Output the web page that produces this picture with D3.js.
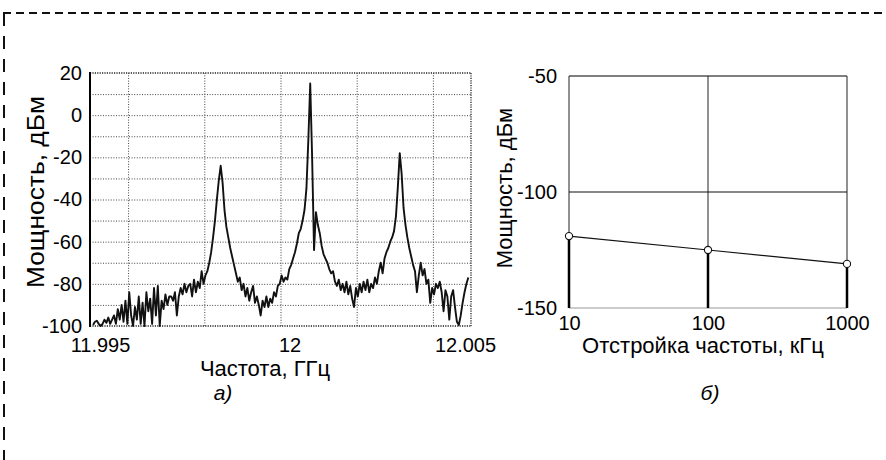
<!DOCTYPE html>
<html>
<head>
<meta charset="utf-8">
<script src="https://cdn.jsdelivr.net/npm/d3@7"></script>
<style>
body { margin: 0; background: #fff; }
svg { display: block; font-family: "Liberation Sans", Arial, sans-serif; }
</style>
</head>
<body>
<svg id="figure" width="886" height="460"></svg>
<script>
// sweep of the analyzer (GHz): first point and bin width
var sweepStart = 11.99508;
var sweepStep = 0.00005;
// power, dBm, one value per sweep bin
var spectrumPower = [
    -99.5, -98, -97.5, -99, -100, -99, -97, -98.5, -96, -99, -97,
    -95, -99, -92, -97, -90, -98, -88, -99, -84, -95,
    -100, -91, -97, -86, -99, -89, -100, -84, -93, -87,
    -99, -82, -95, -81, -100, -88, -92, -85, -90, -86,
    -86, -88, -84, -95, -86, -82, -85, -80, -84, -81,
    -80, -86, -78, -84, -79, -82, -74, -80, -76, -74,
    -70, -65, -58, -50, -40, -31, -24,
    -32, -45, -53, -58, -63, -67, -71, -75, -79, -77, -83, -80, -86,
    -82, -88, -84, -81, -89, -86, -90, -95, -88, -91,
    -86, -91, -87, -89, -84, -86, -81, -80, -76, -79,
    -77, -78, -73, -71, -68, -65, -61, -56, -54, -50, -45,
    -35, -12, 15, -20, -64, -46,
    -52, -56, -62, -66, -68, -70, -73, -75, -74, -79, -81, -78, -83,
    -80, -84, -79, -85, -81, -87, -91, -82, -86, -80,
    -84, -79, -83, -78, -84, -80, -82, -77, -80, -74,
    -70, -75, -68, -65, -63, -60, -58, -55, -48, -34, -18,
    -28, -44, -52, -58, -63, -67, -71, -74, -84, -76, -70, -76, -73, -80, -78, -89, -82, -85, -80,
    -82, -79, -84, -93, -83, -86, -97, -86, -83, -91, -98, -99.5, -95, -89, -84, -80, -77
];
var spectrumTicksX = [11.995, 12, 12.005];
var spectrumTicksY = [20, 0, -20, -40, -60, -80, -100];
var spectrumGridX = [11.996, 11.998, 12, 12.002, 12.004];
var spectrumGridY = [10, 0, -10, -20, -30, -40, -50, -60, -70, -80, -90];

// right panel: noise level vs. frequency offset
var offsetKHz = [10, 100, 1000];
var noiseLevel = [-119, -125, -131];
var offsetTicksY = [-50, -100, -150];
var offsetGridY = [-100];

// plain hyphen for negatives, like the original
var plain = d => String(d);

var svg = d3.select("#figure");
svg.append("rect").attr("width", 886).attr("height", 460).attr("fill", "#fff");

// dashed frame round the figure
svg.append("line")
    .attr("x1", 3).attr("y1", 13).attr("x2", 886).attr("y2", 13)
    .attr("stroke", "#111").attr("stroke-width", 2)
    .attr("stroke-dasharray", "8,5");
svg.append("line")
    .attr("x1", 4).attr("y1", 13).attr("x2", 4).attr("y2", 460)
    .attr("stroke", "#111").attr("stroke-width", 2)
    .attr("stroke-dasharray", "13,10");

spectrum = {};
spectrum.x = d3.scaleLinear().domain([11.995, 12.005]).range([90, 471]);
spectrum.y = d3.scaleLinear().domain([-100, 20]).range([326, 73]);

spectrum.init = function() {
    var x = this.x, y = this.y;
    var x0 = x.range()[0], x1 = x.range()[1];
    var y0 = y.range()[0], y1 = y.range()[1];
    var g = svg.append("g");

    // dotted grid, drawn through axes with long ticks
    g.append("g")
        .attr("transform", `translate(${x0},0)`)
        .call(d3.axisLeft(y).tickValues(spectrumGridY).tickSize(-(x1 - x0)).tickFormat(""))
        .call(s => s.select(".domain").remove())
        .selectAll("line")
        .attr("stroke", "#444").attr("stroke-dasharray", "1,1.6");
    g.append("g")
        .attr("transform", `translate(0,${y0})`)
        .call(d3.axisBottom(x).tickValues(spectrumGridX).tickSize(-(y0 - y1)).tickFormat(""))
        .call(s => s.select(".domain").remove())
        .selectAll("line")
        .attr("stroke", "#444").attr("stroke-dasharray", "1,1.6");

    // frame: dotted top, right and bottom, solid left
    [[x0, y1, x1, y1], [x1, y1, x1, y0], [x0, y0, x1, y0]].forEach(function(c) {
        g.append("line")
            .attr("x1", c[0]).attr("y1", c[1]).attr("x2", c[2]).attr("y2", c[3])
            .attr("stroke", "#222").attr("stroke-width", 1.3)
            .attr("stroke-dasharray", "1.2,1.2");
    });
    g.append("line")
        .attr("x1", x0).attr("y1", y1 - 1).attr("x2", x0).attr("y2", y0 + 1)
        .attr("stroke", "#000").attr("stroke-width", 2);

    // the trace
    var line = d3.line()
        .x((d, i) => x(sweepStart + i * sweepStep))
        .y(d => y(d));
    g.append("path")
        .datum(spectrumPower)
        .attr("d", line)
        .attr("fill", "none")
        .attr("stroke", "#111")
        .attr("stroke-width", 1.9)
        .attr("stroke-linejoin", "round");

    // tick labels
    var ay = g.append("g")
        .attr("transform", `translate(${x0},0)`)
        .call(d3.axisLeft(y).tickValues(spectrumTicksY).tickSize(0).tickPadding(8)
            .tickFormat(plain));
    ay.select(".domain").remove();
    ay.selectAll("text").attr("font-size", 20).attr("font-family", null).attr("fill", "#000");

    var ax = g.append("g")
        .attr("transform", `translate(0,${y0})`)
        .call(d3.axisBottom(x).tickValues(spectrumTicksX).tickSize(0).tickPadding(12)
            .tickFormat(plain));
    ax.select(".domain").remove();
    ax.selectAll("text").attr("font-size", 20).attr("font-family", null).attr("fill", "#000")
        .attr("dx", (d, i) => [10, 9, -6][i]);

    g.append("text")
        .attr("x", 265).attr("y", 376)
        .attr("text-anchor", "middle").attr("font-size", 22)
        .text("Частота, ГГц");
    g.append("text")
        .attr("transform", "translate(44,192) rotate(-90)")
        .attr("text-anchor", "middle").attr("font-size", 23)
        .attr("textLength", 192).attr("lengthAdjust", "spacingAndGlyphs")
        .text("Мощность, дБм");
    g.append("text")
        .attr("x", 223).attr("y", 400)
        .attr("text-anchor", "middle").attr("font-size", 21).attr("font-style", "italic")
        .text("а)");
};

offset = {};
offset.x = d3.scaleLog().domain([10, 1000]).range([569, 847]);
offset.y = d3.scaleLinear().domain([-150, -50]).range([308, 76]);

offset.init = function() {
    var x = this.x, y = this.y;
    var x0 = x.range()[0], x1 = x.range()[1];
    var y0 = y.range()[0], y1 = y.range()[1];
    var g = svg.append("g");

    // top and bottom borders
    g.append("line")
        .attr("x1", x0).attr("y1", y1).attr("x2", x1).attr("y2", y1)
        .attr("stroke", "#555").attr("stroke-width", 1.5);
    g.append("line")
        .attr("x1", x0).attr("y1", y0).attr("x2", x1).attr("y2", y0)
        .attr("stroke", "#999").attr("stroke-width", 1);

    // solid grid
    g.selectAll(".vgrid").data(offsetKHz).enter().append("line")
        .attr("class", "vgrid")
        .attr("x1", d => x(d)).attr("x2", d => x(d))
        .attr("y1", y1).attr("y2", y0)
        .attr("stroke", "#222").attr("stroke-width", 1);
    g.selectAll(".hgrid").data(offsetGridY).enter().append("line")
        .attr("class", "hgrid")
        .attr("x1", x0).attr("x2", x1)
        .attr("y1", d => y(d)).attr("y2", d => y(d))
        .attr("stroke", "#111").attr("stroke-width", 1.2);

    var pts = offsetKHz.map((k, i) => ({ k: k, v: noiseLevel[i] }));

    // stems from each point down to the axis
    g.selectAll(".stem").data(pts).enter().append("line")
        .attr("class", "stem")
        .attr("x1", d => x(d.k)).attr("x2", d => x(d.k))
        .attr("y1", d => y(d.v)).attr("y2", y0)
        .attr("stroke", "#000").attr("stroke-width", 2.5);

    g.append("path")
        .datum(pts)
        .attr("d", d3.line().x(d => x(d.k)).y(d => y(d.v)))
        .attr("fill", "none").attr("stroke", "#111").attr("stroke-width", 1.2);

    g.selectAll("circle").data(pts).enter().append("circle")
        .attr("cx", d => x(d.k)).attr("cy", d => y(d.v)).attr("r", 3.6)
        .attr("fill", "#fff").attr("stroke", "#111").attr("stroke-width", 1.1);

    var ay = g.append("g")
        .attr("transform", `translate(${x0},0)`)
        .call(d3.axisLeft(y).tickValues(offsetTicksY).tickSize(0).tickPadding(12)
            .tickFormat(plain));
    ay.select(".domain").remove();
    ay.selectAll("text").attr("font-size", 20).attr("font-family", null).attr("fill", "#000");

    var ax = g.append("g")
        .attr("transform", `translate(0,${y0})`)
        .call(d3.axisBottom(x).tickValues(offsetKHz).tickSize(0).tickPadding(8)
            .tickFormat(plain));
    ax.select(".domain").remove();
    ax.selectAll("text").attr("font-size", 20).attr("font-family", null).attr("fill", "#000");

    g.append("text")
        .attr("x", 703).attr("y", 353)
        .attr("text-anchor", "middle").attr("font-size", 22)
        .text("Отстройка частоты, кГц");
    g.append("text")
        .attr("transform", "translate(512,188) rotate(-90)")
        .attr("text-anchor", "middle").attr("font-size", 22)
        .text("Мощность, дБм");
    g.append("text")
        .attr("x", 710).attr("y", 400)
        .attr("text-anchor", "middle").attr("font-size", 21).attr("font-style", "italic")
        .text("б)");
};

spectrum.init();
offset.init();
</script>
</body>
</html>
